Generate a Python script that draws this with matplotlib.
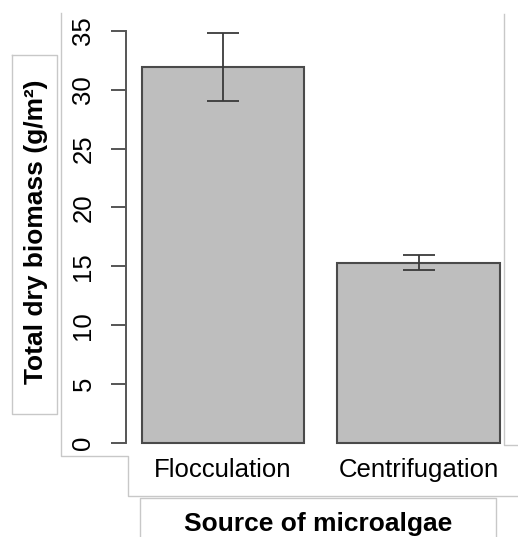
import matplotlib
matplotlib.use("Agg")
import matplotlib.pyplot as plt
from matplotlib.lines import Line2D

# data
categories = ["Flocculation", "Centrifugation"]
biomass = [31.9, 15.3]
biomass_err = [2.9, 0.65]
y_ticks = [0, 5, 10, 15, 20, 25, 30, 35]

W, H = 518, 537
plt.rcParams['font.family'] = ['Liberation Sans', 'DejaVu Sans']

fig = plt.figure(figsize=(W / 100, H / 100), dpi=100)


def fx(px):
    return px / W


def fy(py):
    return 1 - py / H


# axes placed in pixel terms (y=0 at 443 px, y=35 at 30.7 px)
ax = fig.add_axes([fx(126), fy(443), fx(504) - fx(126), (443 - 30.7) / H])

x = list(range(len(categories)))
ax.bar(x, biomass, width=0.83, color="#bebebe", edgecolor="#4a4a4a",
       linewidth=1.5, clip_on=False, zorder=2)
ax.errorbar(x, biomass, yerr=biomass_err, fmt="none", ecolor="#3a3a3a",
            elinewidth=1.3, capsize=11.5, capthick=1.3, clip_on=False, zorder=3)

ax.set_xlim(-0.496, 1.437)
ax.set_ylim(0, 35)
ax.set_yticks(y_ticks)
ax.set_yticklabels([str(t) for t in y_ticks], rotation=90, va="center",
                   fontsize=18.5)
ax.set_xticks(x)
ax.set_xticklabels(categories, fontsize=18.5)

for s in ["top", "right", "bottom"]:
    ax.spines[s].set_visible(False)
ax.spines["left"].set_color("#555555")
ax.spines["left"].set_linewidth(1.4)
ax.spines["left"].set_bounds(0, 35)
ax.tick_params(axis="y", length=11, width=1.4, color="#555555", pad=11)
ax.tick_params(axis="x", length=0, pad=11)

# axis titles
fig.text(fx(36), fy(232), "Total dry biomass (g/m\u00b2)", rotation=90,
         ha="center", va="center", fontsize=19, fontweight="bold")
fig.text(fx(318), fy(531), "Source of microalgae", ha="center",
         va="baseline", fontsize=19, fontweight="bold")

# light frames from the pasted panels
frame_col = "#c8c8c8"


def frame(xs, ys):
    fig.add_artist(Line2D([fx(v) for v in xs], [fy(v) for v in ys],
                          color=frame_col, linewidth=1.0,
                          transform=fig.transFigure))


frame([12.3, 57.3, 57.3, 12.3, 12.3], [55, 55, 414, 414, 55])
frame([60.5, 60.5, 128.3, 128.3, 518], [13, 455.7, 455.7, 495.5, 495.5])
frame([504, 504, 518], [14, 445, 445])
frame([140, 140, 496, 496], [537, 497.5, 497.5, 537])

fig.savefig("out.png", dpi=100)
